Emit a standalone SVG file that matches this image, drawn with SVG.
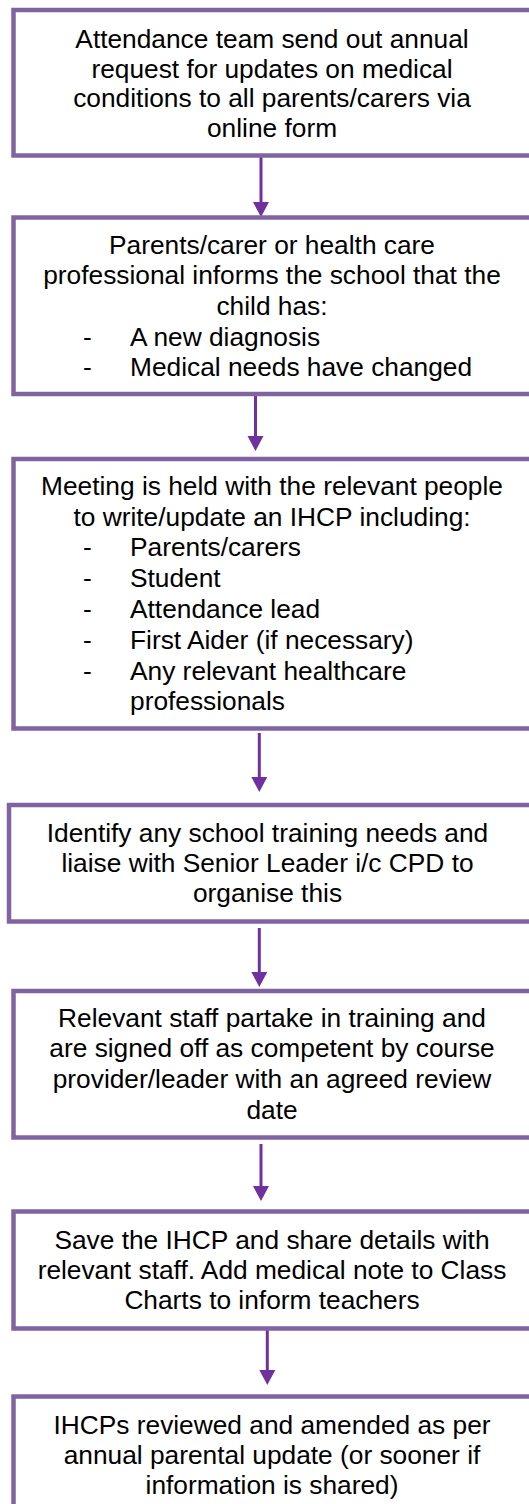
<svg xmlns="http://www.w3.org/2000/svg" width="529" height="1504" viewBox="0 0 529 1504">
<defs>
<marker id="ah" markerUnits="userSpaceOnUse" markerWidth="16" markerHeight="16" refX="0" refY="8" orient="auto" overflow="visible">
<path d="M0,0 L15,8 L0,16 Z" fill="#7030A0"/>
</marker>
<style>
.box{fill:#ffffff;stroke:#8064A2;stroke-width:4.5}
.t{font-family:"Liberation Sans",Arial,sans-serif;font-size:26.3px;fill:#000000}
.c{text-anchor:middle}
.ar{stroke:#7030A0;stroke-width:3;fill:none;marker-end:url(#ah)}
</style>
</defs>
<rect width="529" height="1504" fill="#ffffff"/>
<g id="connectors">
<line class="ar" x1="261" y1="157" x2="261" y2="202"/>
<line class="ar" x1="255.5" y1="396" x2="255.5" y2="436"/>
<line class="ar" x1="259.3" y1="733" x2="259.3" y2="777"/>
<line class="ar" x1="259.3" y1="928" x2="259.3" y2="972"/>
<line class="ar" x1="261" y1="1144" x2="261" y2="1186"/>
<line class="ar" x1="267.3" y1="1330" x2="267.3" y2="1370"/>
</g>
<g id="n1">
<rect class="box" x="13.5" y="10" width="530" height="145.5"/>
<text class="t c" x="272" y="48">Attendance team send out annual</text>
<text class="t c" x="272" y="77.5">request for updates on medical</text>
<text class="t c" x="272" y="107">conditions to all parents/carers via</text>
<text class="t c" x="272" y="136.5">online form</text>
</g>
<g id="n2">
<rect class="box" x="13.5" y="217.5" width="530" height="176.5"/>
<text class="t c" x="272" y="254">Parents/carer or health care</text>
<text class="t c" x="272" y="284">professional informs the school that the</text>
<text class="t c" x="272" y="315">child has:</text>
<text class="t" x="83" y="345.5">-</text><text class="t" x="130" y="345.5">A new diagnosis</text>
<text class="t" x="83" y="376">-</text><text class="t" x="130" y="376">Medical needs have changed</text>
</g>
<g id="n3">
<rect class="box" x="13.5" y="459" width="530" height="269.5"/>
<text class="t c" x="272" y="495">Meeting is held with the relevant people</text>
<text class="t c" x="272" y="526">to write/update an IHCP including:</text>
<text class="t" x="83" y="556">-</text><text class="t" x="130" y="556">Parents/carers</text>
<text class="t" x="83" y="587">-</text><text class="t" x="130" y="587">Student</text>
<text class="t" x="83" y="618">-</text><text class="t" x="130" y="618">Attendance lead</text>
<text class="t" x="83" y="649">-</text><text class="t" x="130" y="649">First Aider (if necessary)</text>
<text class="t" x="83" y="679.5">-</text><text class="t" x="130" y="679.5">Any relevant healthcare</text>
<text class="t" x="130" y="710">professionals</text>
</g>
<g id="n4">
<rect class="box" x="9" y="805" width="535" height="116.5"/>
<text class="t c" x="267.5" y="841.5">Identify any school training needs and</text>
<text class="t c" x="267.5" y="871.5">liaise with Senior Leader i/c CPD to</text>
<text class="t c" x="267.5" y="901.5">organise this</text>
</g>
<g id="n5">
<rect class="box" x="13.5" y="991" width="530" height="146.5"/>
<text class="t c" x="272" y="1026.5">Relevant staff partake in training and</text>
<text class="t c" x="272" y="1057">are signed off as competent by course</text>
<text class="t c" x="272" y="1088">provider/leader with an agreed review</text>
<text class="t c" x="272" y="1118.5">date</text>
</g>
<g id="n6">
<rect class="box" x="13.5" y="1211.5" width="530" height="117"/>
<text class="t c" x="272" y="1248.5">Save the IHCP and share details with</text>
<text class="t c" x="272" y="1278.5">relevant staff. Add medical note to Class</text>
<text class="t c" x="272" y="1308.5">Charts to inform teachers</text>
</g>
<g id="n7">
<rect class="box" x="13.5" y="1396.5" width="530" height="150"/>
<text class="t c" x="272" y="1433.5">IHCPs reviewed and amended as per</text>
<text class="t c" x="272" y="1463.5">annual parental update (or sooner if</text>
<text class="t c" x="272" y="1493.5">information is shared)</text>
</g>
</svg>
